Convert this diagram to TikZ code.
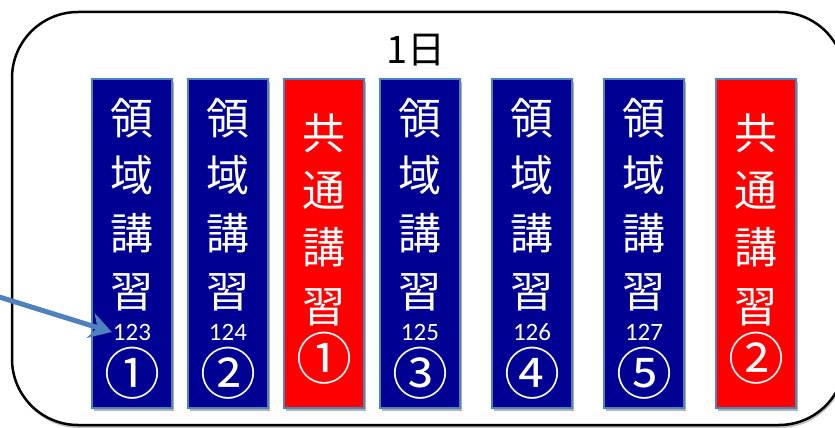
\documentclass[tikz,border=0pt]{standalone}
\usepackage{fontspec}
\newfontfamily\jp{Noto Sans CJK JP}
\newfontfamily\numf{Carlito}
\usetikzlibrary{shadows,arrows.meta}
\definecolor{navybox}{RGB}{0,0,146}
\definecolor{redbox}{RGB}{255,0,0}
\definecolor{edgeblue}{RGB}{79,129,189}
\definecolor{arrowblue}{RGB}{79,129,189}
\begin{document}
\begin{tikzpicture}[x=1pt,y=-1pt,
  frame/.style={draw=black, line width=2.5pt, rounded corners=66pt, fill=white,
    minimum width=833pt, minimum height=413pt, inner sep=0pt, outer sep=0pt,
    drop shadow={shadow xshift=1pt, shadow yshift=-3pt, opacity=0.25, fill=black}},
  lecbox/.style={draw=edgeblue, line width=1.3pt, minimum width=80pt, minimum height=329pt,
    inner sep=0pt, outer sep=0pt, anchor=north west,
    drop shadow={shadow xshift=2pt, shadow yshift=-3pt, opacity=0.3, fill=black}},
  kanji/.style={text=white, font=\jp\fontsize{43}{43}\selectfont, inner sep=0pt},
  circnum/.style={text=white, font=\jp\fontsize{56}{56}\selectfont, inner sep=0pt},
  roomnum/.style={text=white, font=\numf\fontsize{25}{25}\selectfont, inner sep=0pt},
  title/.style={text=black, font=\jp\fontsize{38}{38}\selectfont, inner sep=0pt},
  pointer/.style={draw=arrowblue, line width=5pt, line cap=round,
    -{Stealth[length=22pt, width=26pt, inset=7pt]}}
]
\clip (0,0) rectangle (835,428);
\node[frame] (outer) at (428.5,218.5) {};
\node[title] (day) at (416,50) {1日};
% domain lectures (blue)
\foreach \n/\x/\room/\circ in {1/92/123/①, 2/188/124/②, 4/380/125/③, 5/492/126/④, 6/604/127/⑤}{
  \node[lecbox, fill=navybox] (box\n) at (\x,79) {};
  \node[kanji] (box\n-a) at (\x+40,118) {領};
  \node[kanji] (box\n-b) at (\x+40,175) {域};
  \node[kanji] (box\n-c) at (\x+40,233) {講};
  \node[kanji] (box\n-d) at (\x+40,292) {習};
  \node[roomnum] (box\n-num) at (\x+40,332) {\room};
  \node[circnum] (box\n-circ) at (\x+40,373) {\circ};
}
% common lectures (red)
\foreach \n/\x/\circ in {3/284/①, 7/716/②}{
  \node[lecbox, fill=redbox] (box\n) at (\x,79) {};
  \node[kanji] (box\n-a) at (\x+40,133) {共};
  \node[kanji] (box\n-b) at (\x+40,190) {通};
  \node[kanji] (box\n-c) at (\x+40,247) {講};
  \node[kanji] (box\n-d) at (\x+40,307) {習};
  \node[circnum] (box\n-circ) at (\x+40,358) {\circ};
}
\coordinate (arrowstart) at (-4,296);
\draw[pointer] (arrowstart) -- ([xshift=-1pt]box1-num.west);
\end{tikzpicture}
\end{document}
